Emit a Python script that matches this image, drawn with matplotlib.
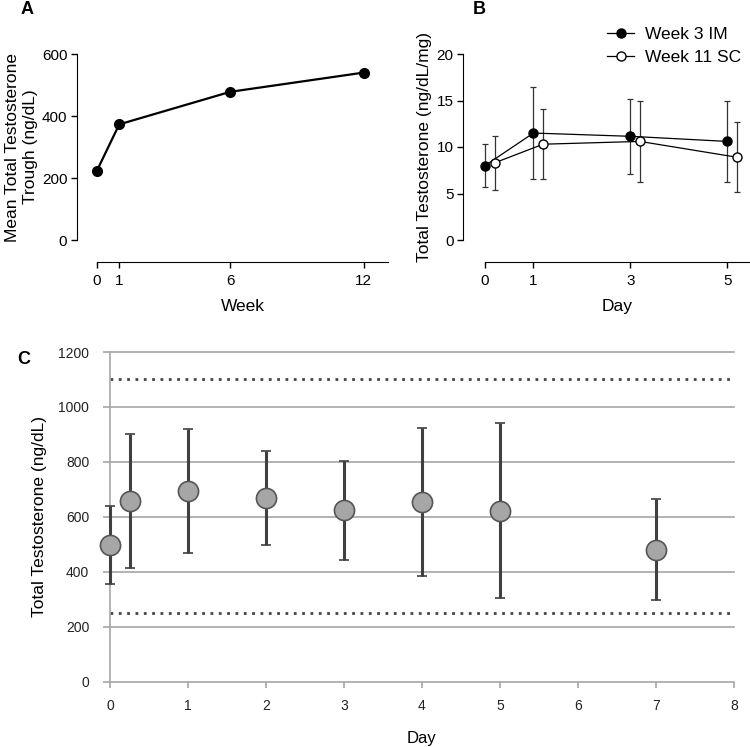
import numpy as np
import matplotlib.pyplot as plt

plt.rcParams['font.family'] = ['Liberation Sans', 'DejaVu Sans']

# Panel A: mean trough by week
weeks = [0, 1, 6, 12]
trough = [224, 373, 478, 540]

# Panel B: dose-normalised testosterone by day
days_b = [0, 1, 3, 5]
im_mean = [8.0, 11.5, 11.15, 10.6]
im_err = [2.3, 4.9, 4.0, 4.35]
sc_days = [0.2, 1.2, 3.2, 5.2]
sc_mean = [8.3, 10.3, 10.6, 8.9]
sc_err = [2.9, 3.75, 4.35, 3.75]

# Panel C: total testosterone by day
days_c = [0, 0.25, 1, 2, 3, 4, 5, 7]
tt_mean = [497, 658, 695, 668, 624, 655, 623, 481]
tt_err = [142, 244, 225, 170, 180, 270, 320, 185]
ref_lines = [250, 1100]

fig = plt.figure(figsize=(7.5, 7.47), dpi=100)
W, H = 750, 747

def box(x0, y0, x1, y1):
    return [x0 / W, 1 - y1 / H, (x1 - x0) / W, (y1 - y0) / H]

# ---- A ----
axA = fig.add_axes(box(97, 54, 388, 240))
axA.plot(weeks, trough, color='black', lw=1.6, marker='o', ms=7, clip_on=False)
axA.set_xlim(0, 13.1)
axA.set_ylim(0, 600)
axA.set_xticks(weeks)
axA.set_yticks([0, 200, 400, 600])
for s in ['top', 'right']:
    axA.spines[s].set_visible(False)
axA.spines['left'].set_position(('outward', 14.4))
axA.spines['bottom'].set_position(('outward', 15.6))
axA.tick_params(length=4, width=1, pad=3, labelsize=11)
axA.tick_params(axis='x', pad=5)
axA.set_xlabel('Week', fontsize=12.5, labelpad=8)
axA.set_ylabel('Mean Total Testosterone\nTrough (ng/dL)', fontsize=12.5, labelpad=3)
fig.text(21 / W, 1 - 10 / H, 'A', fontsize=13, fontweight='bold', va='center')

# ---- B ----
axB = fig.add_axes(box(485, 54, 749, 240))
axB.errorbar(days_b, im_mean, yerr=im_err, color='black', lw=0.9, marker='o',
             ms=6.5, mfc='black', mec='black', ecolor='#333333', elinewidth=0.9,
             capsize=2.5, capthick=0.9, clip_on=False, label='Week 3 IM')
axB.errorbar(sc_days, sc_mean, yerr=sc_err, color='black', lw=0.9, marker='o',
             ms=6.5, mfc='white', mec='black', ecolor='#333333', elinewidth=0.9,
             capsize=2.5, capthick=0.9, clip_on=False, label='Week 11 SC')
axB.set_xlim(0, 5.45)
axB.set_ylim(0, 20)
axB.set_xticks(days_b)
axB.set_yticks([0, 5, 10, 15, 20])
for s in ['top', 'right']:
    axB.spines[s].set_visible(False)
axB.spines['left'].set_position(('outward', 15.6))
axB.spines['bottom'].set_position(('outward', 15.6))
axB.tick_params(length=4, width=1, pad=3, labelsize=11)
axB.tick_params(axis='x', pad=5)
axB.set_xlabel('Day', fontsize=12.5, labelpad=8)
axB.set_ylabel('Total Testosterone (ng/dL/mg)', fontsize=12.5, labelpad=3)
handles, labels = axB.get_legend_handles_labels()
handles = [h[0] for h in handles]
fig.legend(handles, labels, loc='upper right', bbox_to_anchor=(741 / W, 1 - 27 / H),
           frameon=False, fontsize=12.5, handlelength=1.6, handletextpad=0.6,
           labelspacing=0.45, borderaxespad=0, borderpad=0)
fig.text(473 / W, 1 - 10 / H, 'B', fontsize=13, fontweight='bold', va='center')

# ---- C ----
axC = fig.add_axes(box(110, 352, 734, 681.7))
grid_c = '#a6a6a6'
for yv in [200, 400, 600, 800, 1000, 1200]:
    axC.axhline(yv, color=grid_c, lw=1.2, zorder=1, clip_on=False)
for yv in ref_lines:
    axC.axhline(yv, color='#444444', lw=2, ls=(0, (1, 2)), zorder=2)
axC.errorbar(days_c, tt_mean, yerr=tt_err, fmt='o', ms=14.5, mfc='#a6a6a6',
             mec='#555555', mew=1.2, ecolor='#404040', elinewidth=2.2,
             capsize=3.3, capthick=2.2, clip_on=False, zorder=3)
axC.set_xlim(0, 8)
axC.set_ylim(0, 1200)
axC.set_xticks(range(0, 9))
axC.set_yticks(range(0, 1201, 200))
for s in ['top', 'right']:
    axC.spines[s].set_visible(False)
for s in ['left', 'bottom']:
    axC.spines[s].set_color(grid_c)
    axC.spines[s].set_linewidth(1.2)
axC.tick_params(axis='y', length=5, width=1.2, color=grid_c, pad=10, labelsize=10,
                labelcolor='#222222')
axC.tick_params(axis='x', length=4.3, width=1.2, color=grid_c, pad=8, labelsize=10,
                labelcolor='#222222')
axC.set_xlabel('Day', fontsize=12, labelpad=13)
axC.set_ylabel('Total Testosterone (ng/dL)', fontsize=12.5, labelpad=8)
fig.text(17 / W, 1 - 360 / H, 'C', fontsize=13, fontweight='bold', va='center')

fig.savefig('out.png', dpi=100)
